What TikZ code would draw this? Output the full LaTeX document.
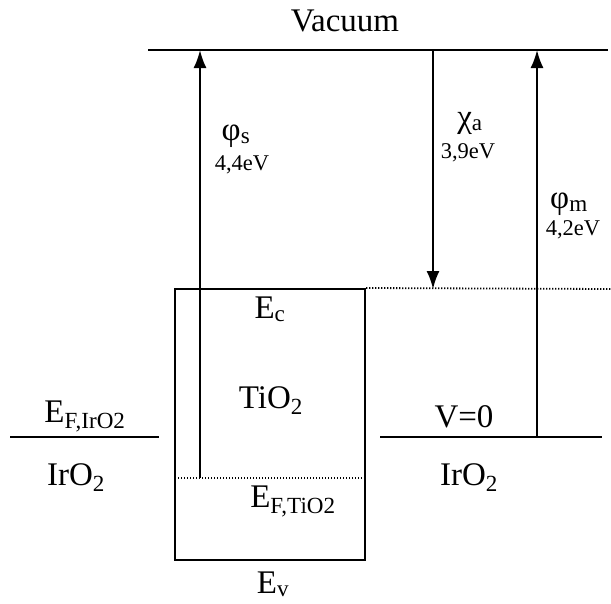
\documentclass[tikz,border=0pt]{standalone}
\usepackage{fontspec}
\setmainfont{Liberation Serif}
\usetikzlibrary{arrows.meta}
\begin{document}
\begin{tikzpicture}[x=1pt,y=-1pt,
  lvl/.style={line width=2pt},
  dots/.style={line width=1.8pt, dash pattern=on 1.4pt off 1.6pt},
  arr/.style={line width=2pt,-{Latex[length=18pt,width=13pt]}},
  big/.style={font=\fontsize{33}{35}\selectfont, inner sep=0pt, anchor=base},
  val/.style={font=\fontsize{22.5}{24}\selectfont, inner sep=0pt, anchor=base}]
\useasboundingbox (0,0) rectangle (611,603);
% levels
\coordinate (vl) at (148,50);
\coordinate (vr) at (608,50);
\draw[lvl] (vl) -- (vr);
\coordinate (ll) at (10,437);
\coordinate (lr) at (159,437);
\draw[lvl] (ll) -- (lr);
\coordinate (rl) at (380,437);
\coordinate (rr) at (602,437);
\draw[lvl] (rl) -- (rr);
% TiO2 box
\node (box) [draw, lvl, minimum width=190pt, minimum height=271pt, inner sep=0pt] at (270,424.5) {};
\coordinate (ecend) at (611,289);
\draw[dots] (box.north east) -- (ecend);
\coordinate (efl) at (175,478);
\coordinate (efr) at (365,478);
\draw[dots] (efl) -- (efr);
% arrows
\coordinate (s0) at (200,478);
\coordinate (s1) at (200,50);
\draw[arr] (s0) -- (s1);
\coordinate (c0) at (433,50);
\coordinate (c1) at (433,289);
\draw[arr] (c0) -- (c1);
\coordinate (m0) at (537,437);
\coordinate (m1) at (537,50);
\draw[arr] (m0) -- (m1);
% labels
\node[big] (vac) at (345,31) {Vacuum};
\node[big] (phis) at (236,140) {φ\textsubscript{s}};
\node[val] (vs) at (242,170) {4,4eV};
\node[big] (chia) at (470,127) {χ\textsubscript{a}};
\node[val] (vc) at (468,158) {3,9eV};
\node[big] (phim) at (569,208) {φ\textsubscript{m}};
\node[val] (vm) at (573,235) {4,2eV};
\node[big] (ec) at (270,318) {E\textsubscript{c}};
\node[big] (tio) at (271,408) {TiO\textsubscript{2}};
\node[big] (efir) at (85,422) {E\textsubscript{F,IrO2}};
\node[big] (irl) at (76,485) {IrO\textsubscript{2}};
\node[big] (v0) at (464,427) {V=0};
\node[big] (irr) at (469,485) {IrO\textsubscript{2}};
\node[big] (efti) at (293,507) {E\textsubscript{F,TiO2}};
\node[big] (ev) at (273,593) {E\textsubscript{v}};
\end{tikzpicture}
\end{document}
